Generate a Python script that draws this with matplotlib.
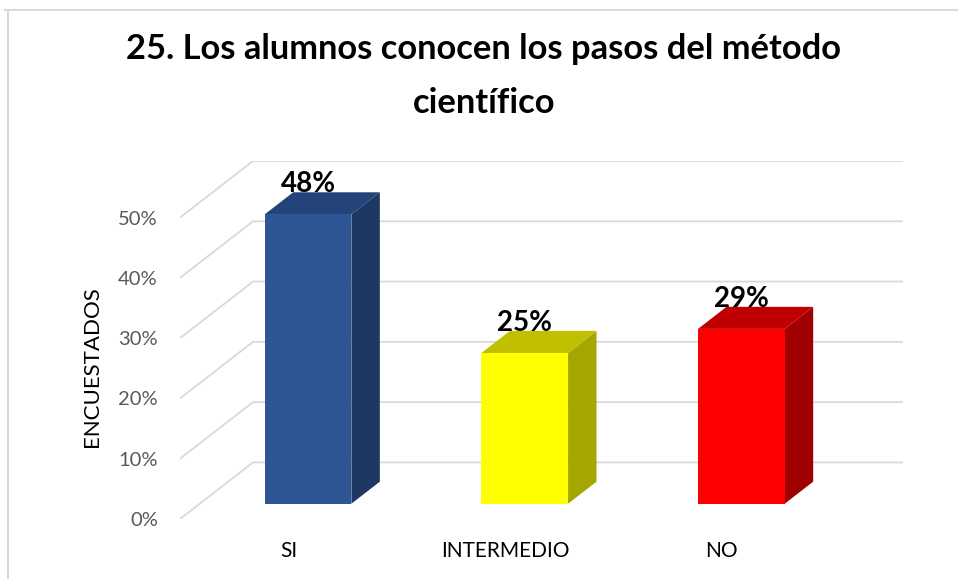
import matplotlib
matplotlib.use("Agg")
import matplotlib.pyplot as plt
from matplotlib.patches import Polygon, Rectangle
from matplotlib.lines import Line2D

# ---- data ----
categories = ["SI", "INTERMEDIO", "NO"]
values = [48, 25, 29]
value_labels = ["48%", "25%", "29%"]
tick_values = [0, 10, 20, 30, 40, 50]
tick_labels = ["0%", "10%", "20%", "30%", "40%", "50%"]
title_lines = ["25. Los alumnos conocen los pasos del método", "científico"]
ylabel = "ENCUESTADOS"

front_colors = ["#2E5594", "#FFFF00", "#FF0000"]
top_colors = ["#24437A", "#C0C000", "#C00000"]
side_colors = ["#1F3763", "#A6A600", "#A00000"]

FONT = "Lato"
plt.rcParams["font.family"] = [FONT, "DejaVu Sans"]

W, H = 958, 579
fig = plt.figure(figsize=(W / 100, H / 100), dpi=100)

# oblique projection parameters (depth of the floor, in data units)
DX = 0.337   # x shift for full depth
DY = 9.385   # y shift for full depth
f1, f2 = 0.27, 0.66  # bar front / back depth fractions
bw = 0.40

left_px, right_px = 180, 903
bottom_px, top_px = 519, 161
ax = fig.add_axes([left_px / W, (H - bottom_px) / H,
                   (right_px - left_px) / W, (bottom_px - top_px) / H])
ax.set_xlim(0, len(categories) + DX)
ax.set_ylim(0, 50 + DY)
for s in ax.spines.values():
    s.set_visible(False)

# walls / gridlines
for v in tick_values:
    ax.plot([0, DX, len(categories) + DX], [v, v + DY, v + DY],
            color="#D9D9D9", lw=1.3, zorder=1, solid_capstyle="butt")

# bars
for i, v in enumerate(values):
    c = i + 0.5
    xl1 = c - bw / 2 + f1 * DX
    xr1 = c + bw / 2 + f1 * DX
    xl2 = c - bw / 2 + f2 * DX
    xr2 = c + bw / 2 + f2 * DX
    y01 = f1 * DY
    y02 = f2 * DY
    # side
    ax.add_patch(Polygon([(xr1, y01), (xr1, y01 + v), (xr2, y02 + v), (xr2, y02)],
                         closed=True, facecolor=side_colors[i], edgecolor="none", zorder=3))
    # top
    ax.add_patch(Polygon([(xl1, y01 + v), (xr1, y01 + v), (xr2, y02 + v), (xl2, y02 + v)],
                         closed=True, facecolor=top_colors[i], edgecolor="none", zorder=3))
    # front
    ax.add_patch(Rectangle((xl1, y01), bw, v, facecolor=front_colors[i],
                           edgecolor="none", zorder=4))
    ax.annotate(value_labels[i], xy=(c + f1 * DX, y01 + v), xytext=(0, 17),
                textcoords="offset pixels", ha="center", va="bottom",
                fontsize=20, fontweight="bold", color="black", zorder=6)

ax.set_yticks(tick_values)
ax.set_yticklabels(tick_labels)
ax.set_xticks([i + 0.5 for i in range(len(categories))])
ax.set_xticklabels(categories)
ax.tick_params(axis="y", length=0, pad=16, labelsize=14.5, labelcolor="#595959")
ax.tick_params(axis="x", length=0, pad=16, labelsize=15, labelcolor="black")

fig.text(92 / W, 1 - 367 / H, ylabel, rotation=90, ha="center", va="center",
         fontsize=16, color="black")

# title (two centred lines, baselines at ~59 px and ~113 px)
fig.text(484 / W, 1 - 59 / H, title_lines[0], ha="center", va="baseline",
         fontsize=24.8, fontweight="bold", color="black")
fig.text(484 / W, 1 - 113 / H, title_lines[1], ha="center", va="baseline",
         fontsize=24.8, fontweight="bold", color="black")

# chart border (top and left visible)
fig.add_artist(Line2D([5 / W, 1], [1 - 10 / H, 1 - 10 / H], color="#D9D9D9", lw=1.5))
fig.add_artist(Line2D([8 / W, 8 / W], [1 - 10 / H, 0], color="#D9D9D9", lw=1.5))

fig.savefig("out.png", dpi=100)
